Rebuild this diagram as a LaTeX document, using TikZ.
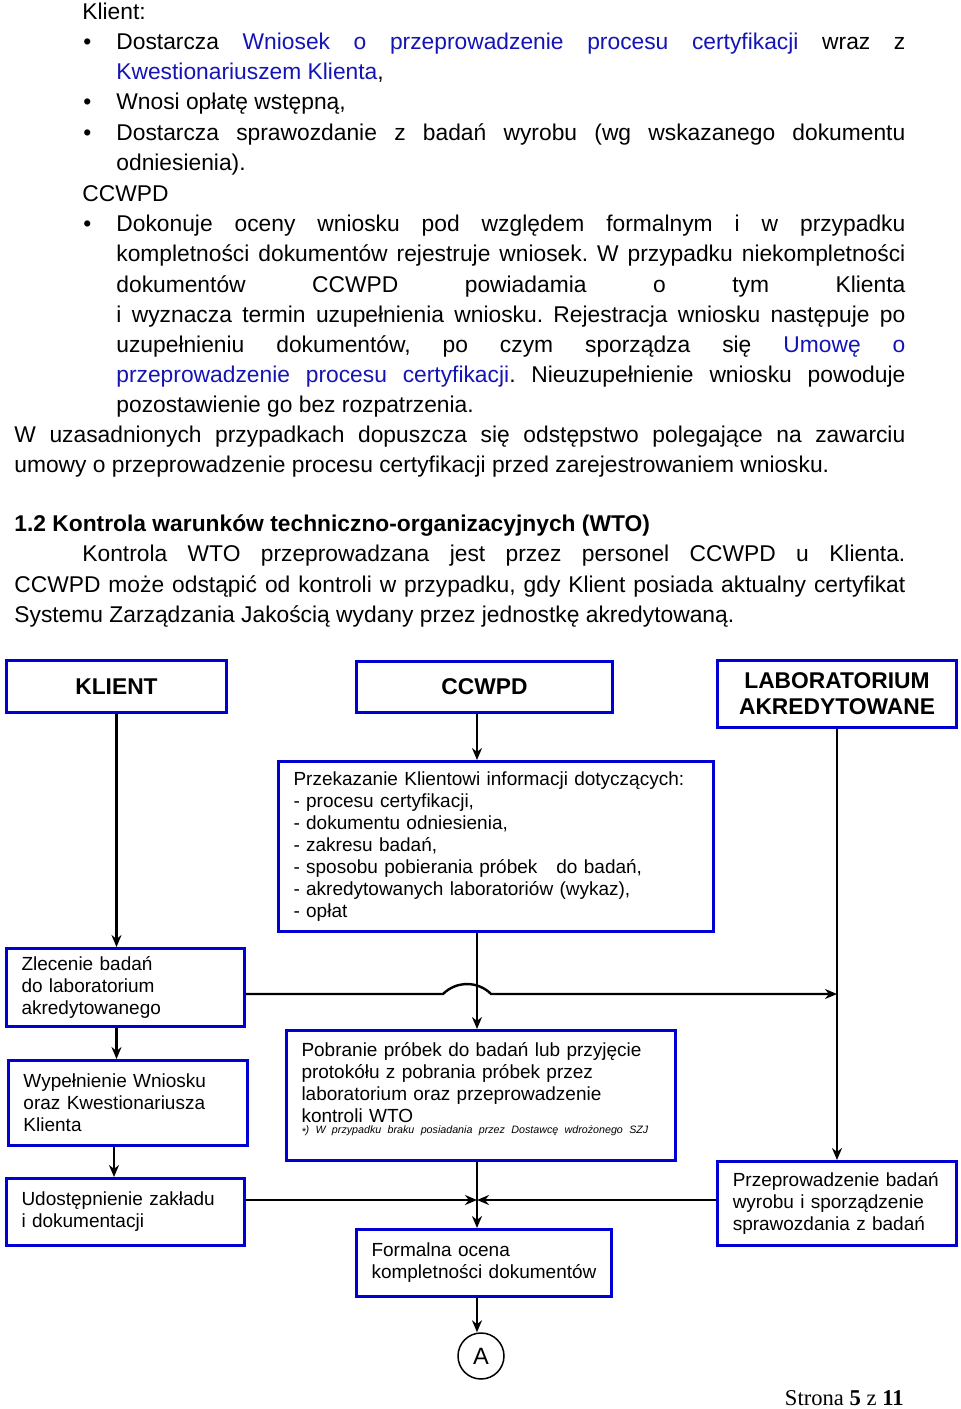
\documentclass[tikz,border=0pt]{standalone}
\usepackage{fontspec}
\setmainfont{Liberation Sans}
\newfontfamily\serifpage{Liberation Serif}
\usetikzlibrary{arrows.meta}
\tikzset{>={Stealth[length=6pt,width=5pt]}}
\definecolor{frame}{RGB}{0,0,210}
\definecolor{link}{RGB}{20,20,180}
\hyphenpenalty=10000
\tolerance=9999
\hbadness=10000
\frenchspacing

\begin{document}
\begin{tikzpicture}[x=0.5pt, y=-0.5pt]
            \tikzset{body/.style={anchor=base west, inner sep=0pt, font={\fontsize{11.4}{15.1}\selectfont}}};
            \tikzset{para/.style={body, align=justify}};
            \tikzset{head/.style={draw=frame, line width=1.5pt, align=center, font={\fontsize{11.4}{13}\selectfont\bfseries}}};
            \tikzset{box/.style={draw=frame, line width=1.5pt, inner xsep=7.5pt, inner ysep=0pt, align=left, font={\fontsize{9.5}{11}\selectfont}}};
            \tikzset{arrow/.style={->, line width=1.2pt}};
            \useasboundingbox (0, 0) rectangle (960, 1409);
            % Klient
            \node[body] (klientlbl) at (82, 19.3) {Klient:};
            \node[body] (b1) at (83, 49.5) {\textbullet};
            \node[para, text width=394.5pt] (item1) at (116, 49.5) {Dostarcza \textcolor{link}{Wniosek o przeprowadzenie procesu certyfikacji} wraz z\linebreak \textcolor{link}{Kwestionariuszem Klienta},};
            \node[body] (b2) at (83, 109.9) {\textbullet};
            \node[para, text width=394.5pt] (item2) at (116, 109.9) {Wnosi opłatę wstępną,};
            \node[body] (b3) at (83, 140.1) {\textbullet};
            \node[para, text width=394.5pt] (item3) at (116, 140.1) {Dostarcza sprawozdanie z badań wyrobu (wg wskazanego dokumentu\linebreak odniesienia).};
            % CCWPD
            \node[body] (ccwpdlbl) at (82, 201.5) {CCWPD};
            \node[body] (b4) at (83, 231.7) {\textbullet};
            \node[para, text width=394.5pt] (item4) at (116, 231.7) {Dokonuje oceny wniosku pod względem formalnym i w przypadku\linebreak kompletności dokumentów rejestruje wniosek. W przypadku niekompletności\linebreak dokumentów CCWPD powiadamia o tym Klienta\linebreak i wyznacza termin uzupełnienia wniosku. Rejestracja wniosku następuje po\linebreak uzupełnieniu dokumentów, po czym sporządza się \textcolor{link}{Umowę o\linebreak przeprowadzenie procesu certyfikacji}. Nieuzupełnienie wniosku powoduje\linebreak pozostawienie go bez rozpatrzenia.};
            \node[para, text width=445.5pt] (exception) at (14, 442.5) {W uzasadnionych przypadkach dopuszcza się odstępstwo polegające na zawarciu\linebreak umowy o przeprowadzenie procesu certyfikacji przed zarejestrowaniem wniosku.};
            % 1.2 WTO
            \node[body] (heading) at (14, 531.7) {\bfseries 1.2 Kontrola warunków techniczno-organizacyjnych (WTO)};
            \node[para, text width=445.5pt] (wto) at (14, 561.8) {\hspace*{34pt}Kontrola WTO przeprowadzana jest przez personel CCWPD u Klienta.\linebreak CCWPD może odstąpić od kontroli w przypadku, gdy Klient posiada aktualny certyfikat\linebreak Systemu Zarządzania Jakością wydany przez jednostkę akredytowaną.};
            % Column heads
            \node[head, minimum width=110pt, minimum height=26pt] (klient) at (116.5, 686.5) {KLIENT};
            \node[head, minimum width=128pt, minimum height=25.5pt] (ccwpd) at (484.5, 687) {CCWPD};
            \node[head, minimum width=119.25pt, minimum height=33.5pt] (lab) at (837, 694) {LABORATORIUM\\AKREDYTOWANE};
            % Steps
            \node[box, text width=202.5pt, minimum height=85pt] (info) at (496, 846.5) {Przekazanie Klientowi informacji dotyczących:\\- procesu certyfikacji,\\- dokumentu odniesienia,\\- zakresu badań,\\- sposobu pobierania próbek\ \ \ do badań,\\- akredytowanych laboratoriów (wykaz),\\- opłat};
            \node[box, text width=104pt, minimum height=39pt] (zlecenie) at (125.5, 987.5) {Zlecenie badań\\do laboratorium\\akredytowanego};
            \node[box, text width=104.5pt, minimum height=42.5pt] (wypel) at (128, 1103) {Wypełnienie Wniosku\\oraz Kwestionariusza\\Klienta};
            \node[box, text width=104pt, minimum height=33.5pt] (udost) at (125.5, 1212) {Udostępnienie zakładu\\i dokumentacji};
            \node[box, text width=179.5pt, minimum height=65pt] (pobranie) at (481, 1095.5) {Pobranie próbek do badań lub przyjęcie\\protokółu z pobrania próbek przez\\laboratorium oraz przeprowadzenie\\kontroli WTO\\[-5.5pt]\mbox{\fontsize{5.35}{7}\selectfont\itshape\raisebox{-0.5ex}{*}) W przypadku braku posiadania przez Dostawcę wdrożonego SZJ}\rule[-8pt]{0pt}{0pt}};
            \node[box, text width=104.25pt, minimum height=42pt] (przeprow) at (837, 1203.5) {Przeprowadzenie badań\\wyrobu i sporządzenie\\sprawozdania z badań};
            \node[box, text width=112.5pt, minimum height=33.5pt] (formalna) at (484, 1263) {Formalna ocena\\kompletności dokumentów};
            \node[draw, circle, minimum size=23pt, inner sep=0pt, line width=0.75pt, font={\fontsize{11.8}{14}\selectfont}] (a) at (481, 1356) {A};
            % Junctions
            \coordinate (join) at (477, 1200);
            \coordinate (drop) at (114, 1150);
            \coordinate (hopl) at (443, 994);
            \coordinate (hopr) at (491, 994);
            % Flow
            \draw[arrow] (klient.south) -- (klient.south |- zlecenie.north);
            \draw[arrow] (ccwpd.south -| join) -- (info.north -| join);
            \draw[arrow] (lab.south) -- (przeprow.north);
            \draw[arrow] (info.south -| join) -- (pobranie.north -| join);
            \draw[arrow] (zlecenie.east |- hopl) -- (hopl) arc[start angle=225, end angle=315, radius=34] -- (lab.south |- hopl);
            \draw[arrow] (klient.south |- zlecenie.south) -- (klient.south |- wypel.north);
            \draw[arrow] (drop |- wypel.south) -- (drop |- udost.north);
            \draw[arrow] (udost.east |- join) -- (join);
            \draw[arrow] (przeprow.west |- join) -- (join);
            \draw[arrow] (pobranie.south -| join) -- (formalna.north -| join);
            \draw[arrow] (formalna.south -| join) -- (a.north -| join);
            % Page number
            \node[anchor=base east, inner sep=0pt, font={\serifpage\fontsize{11.3}{13}\selectfont}] (footer) at (904, 1405) {Strona \textbf{5} z \textbf{11}};
\end{tikzpicture}
\end{document}
